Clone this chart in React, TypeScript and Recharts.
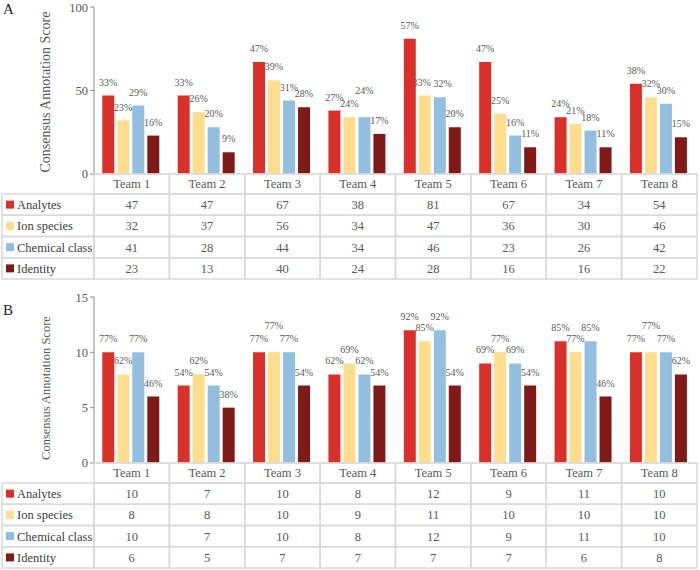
import React from 'react'
import { BarChart, Bar, XAxis, YAxis, LabelList } from 'recharts'

const teams = ['Team 1', 'Team 2', 'Team 3', 'Team 4', 'Team 5', 'Team 6', 'Team 7', 'Team 8']
const seriesNames = ['Analytes', 'Ion species', 'Chemical class', 'Identity']
const colors = ['#d9302a', '#fedd8e', '#92bfdf', '#7f1a17']

// panel A
const analytesA = [47, 47, 67, 38, 81, 67, 34, 54]
const ionA = [32, 37, 56, 34, 47, 36, 30, 46]
const chemA = [41, 28, 44, 34, 46, 23, 26, 42]
const identityA = [23, 13, 40, 24, 28, 16, 16, 22]
const totalA = 142
const ticksA = [0, 50, 100]

// panel B
const analytesB = [10, 7, 10, 8, 12, 9, 11, 10]
const ionB = [8, 8, 10, 9, 11, 10, 10, 10]
const chemB = [10, 7, 10, 8, 12, 9, 11, 10]
const identityB = [6, 5, 7, 7, 7, 7, 6, 8]
const totalB = 13
const ticksB = [0, 5, 10, 15]

const W = 700
const LEFT = 94
const RIGHT = 3
const HEAD_H = 20
const ROW_H = 21.25
const TABLE_H = HEAD_H + ROW_H * 4
const TEXT = '#595959'
const GRID = '#d9d9d9'
const FONT = 'Liberation Serif, DejaVu Serif, serif'

type PanelProps = {
  letter: string
  letterY: number
  series: number[][]
  total: number
  ticks: number[]
  height: number
  bottom: number
  titleY: number
  titleSize: number
}

function Panel({ letter, letterY, series, total, ticks, height, bottom, titleY, titleSize }: PanelProps) {
  const data = teams.map((team, i) => ({
    team,
    s0: series[0][i],
    s1: series[1][i],
    s2: series[2][i],
    s3: series[3][i],
  }))
  const band = (W - LEFT - RIGHT) / teams.length
  const tableTop = height - bottom - TABLE_H
  const maxY = ticks[ticks.length - 1]
  const plotH = tableTop - 7

  // raise a label when its bar ties with the neighbour on its left
  const lifted = (k: number, i: number): boolean =>
    k > 0 && series[k][i] === series[k - 1][i] && !lifted(k - 1, i)
  // bars of almost equal height: push the two labels apart sideways
  const close = (a: number, b: number, i: number) =>
    a >= 0 && b < series.length && !lifted(a, i) && !lifted(b, i) &&
    Math.abs(series[a][i] - series[b][i]) * (plotH / maxY) < 3 && series[a][i] !== series[b][i]

  const makeLabel = (k: number) => (p: any) => {
    const i = p.index
    const cy = p.y - 13.5 - (lifted(k, i) ? 13 : 0)
    const dx = (close(k - 1, k, i) ? 3 : 0) - (close(k, k + 1, i) ? 3 : 0)
    return (
      <text x={p.x + p.width / 2 + dx} y={cy} dy="0.35em" textAnchor="middle" fill={TEXT} fontSize={10} fontFamily={FONT}>
        {`${Math.round((Number(p.value) / total) * 100)}%`}
      </text>
    )
  }

  const renderTable = (p: any) => {
    const idx = teams.indexOf(p.payload.value)
    const cx = p.x
    const left = cx - band / 2
    return (
      <g>
        <rect x={left} y={tableTop} width={band} height={HEAD_H} fill="none" stroke={GRID} strokeWidth={1.5} />
        <text x={cx} y={tableTop + HEAD_H / 2} dy="0.35em" textAnchor="middle" fill={TEXT} fontSize={12.5} fontFamily={FONT}>
          {p.payload.value}
        </text>
        {series.map((s, k) => {
          const y = tableTop + HEAD_H + k * ROW_H
          return (
            <g key={k}>
              <rect x={left} y={y} width={band} height={ROW_H} fill="none" stroke={GRID} strokeWidth={1.5} />
              <text x={cx} y={y + ROW_H / 2} dy="0.35em" textAnchor="middle" fill={TEXT} fontSize={12.5} fontFamily={FONT}>
                {s[idx]}
              </text>
            </g>
          )
        })}
        {idx === 0 &&
          seriesNames.map((name, k) => {
            const y = tableTop + HEAD_H + k * ROW_H
            return (
              <g key={name}>
                <rect x={2} y={y} width={left - 2} height={ROW_H} fill="none" stroke={GRID} strokeWidth={1.5} />
                <rect x={6} y={y + ROW_H / 2 - 4} width={8} height={8} fill={colors[k]} />
                <text x={17} y={y + ROW_H / 2} dy="0.35em" fill="#404040" fontSize={12.5} fontFamily={FONT}>
                  {name}
                </text>
              </g>
            )
          })}
      </g>
    )
  }

  return (
    <div style={{ position: 'relative', width: W, height }}>
      <BarChart
        width={W}
        height={height}
        data={data}
        margin={{ top: 7, right: RIGHT, left: LEFT - 40, bottom }}
        barCategoryGap="11%"
        barGap={3}
      >
        <XAxis dataKey="team" height={TABLE_H} interval={0} tickLine={false} axisLine={{ stroke: GRID }} tick={renderTable} />
        <YAxis
          width={40}
          domain={[0, maxY]}
          ticks={ticks}
          tickSize={4}
          axisLine={{ stroke: '#8c8c8c' }}
          tickLine={{ stroke: '#8c8c8c' }}
          tick={{ fill: TEXT, fontSize: 12.5, fontFamily: FONT }}
        />
        {seriesNames.map((name, k) => (
          <Bar key={name} dataKey={`s${k}`} name={name} fill={colors[k]} isAnimationActive={false}>
            <LabelList dataKey={`s${k}`} content={makeLabel(k)} />
          </Bar>
        ))}
      </BarChart>
      <svg width={W} height={height} style={{ position: 'absolute', left: 0, top: 0, pointerEvents: 'none' }}>
        <text x={3} y={letterY} fontSize={15} fontFamily={FONT} fill="#222">
          {letter}
        </text>
        <text
          x={50}
          y={titleY}
          transform={`rotate(-90 50 ${titleY})`}
          textAnchor="middle"
          fontSize={titleSize}
          fontFamily={FONT}
          fill={TEXT}
        >
          Consensus Annotation Score
        </text>
      </svg>
    </div>
  )
}

export default function App() {
  return (
    <div style={{ position: 'absolute', left: 0, top: 0, width: W, height: 570, background: '#fff' }}>
      <Panel
        letter="A"
        letterY={14}
        series={[analytesA, ionA, chemA, identityA]}
        total={totalA}
        ticks={ticksA}
        height={290}
        bottom={11}
        titleY={92}
        titleSize={14}
      />
      <Panel
        letter="B"
        letterY={25}
        series={[analytesB, ionB, chemB, identityB]}
        total={totalB}
        ticks={ticksB}
        height={280}
        bottom={2}
        titleY={98}
        titleSize={12.5}
      />
    </div>
  )
}
